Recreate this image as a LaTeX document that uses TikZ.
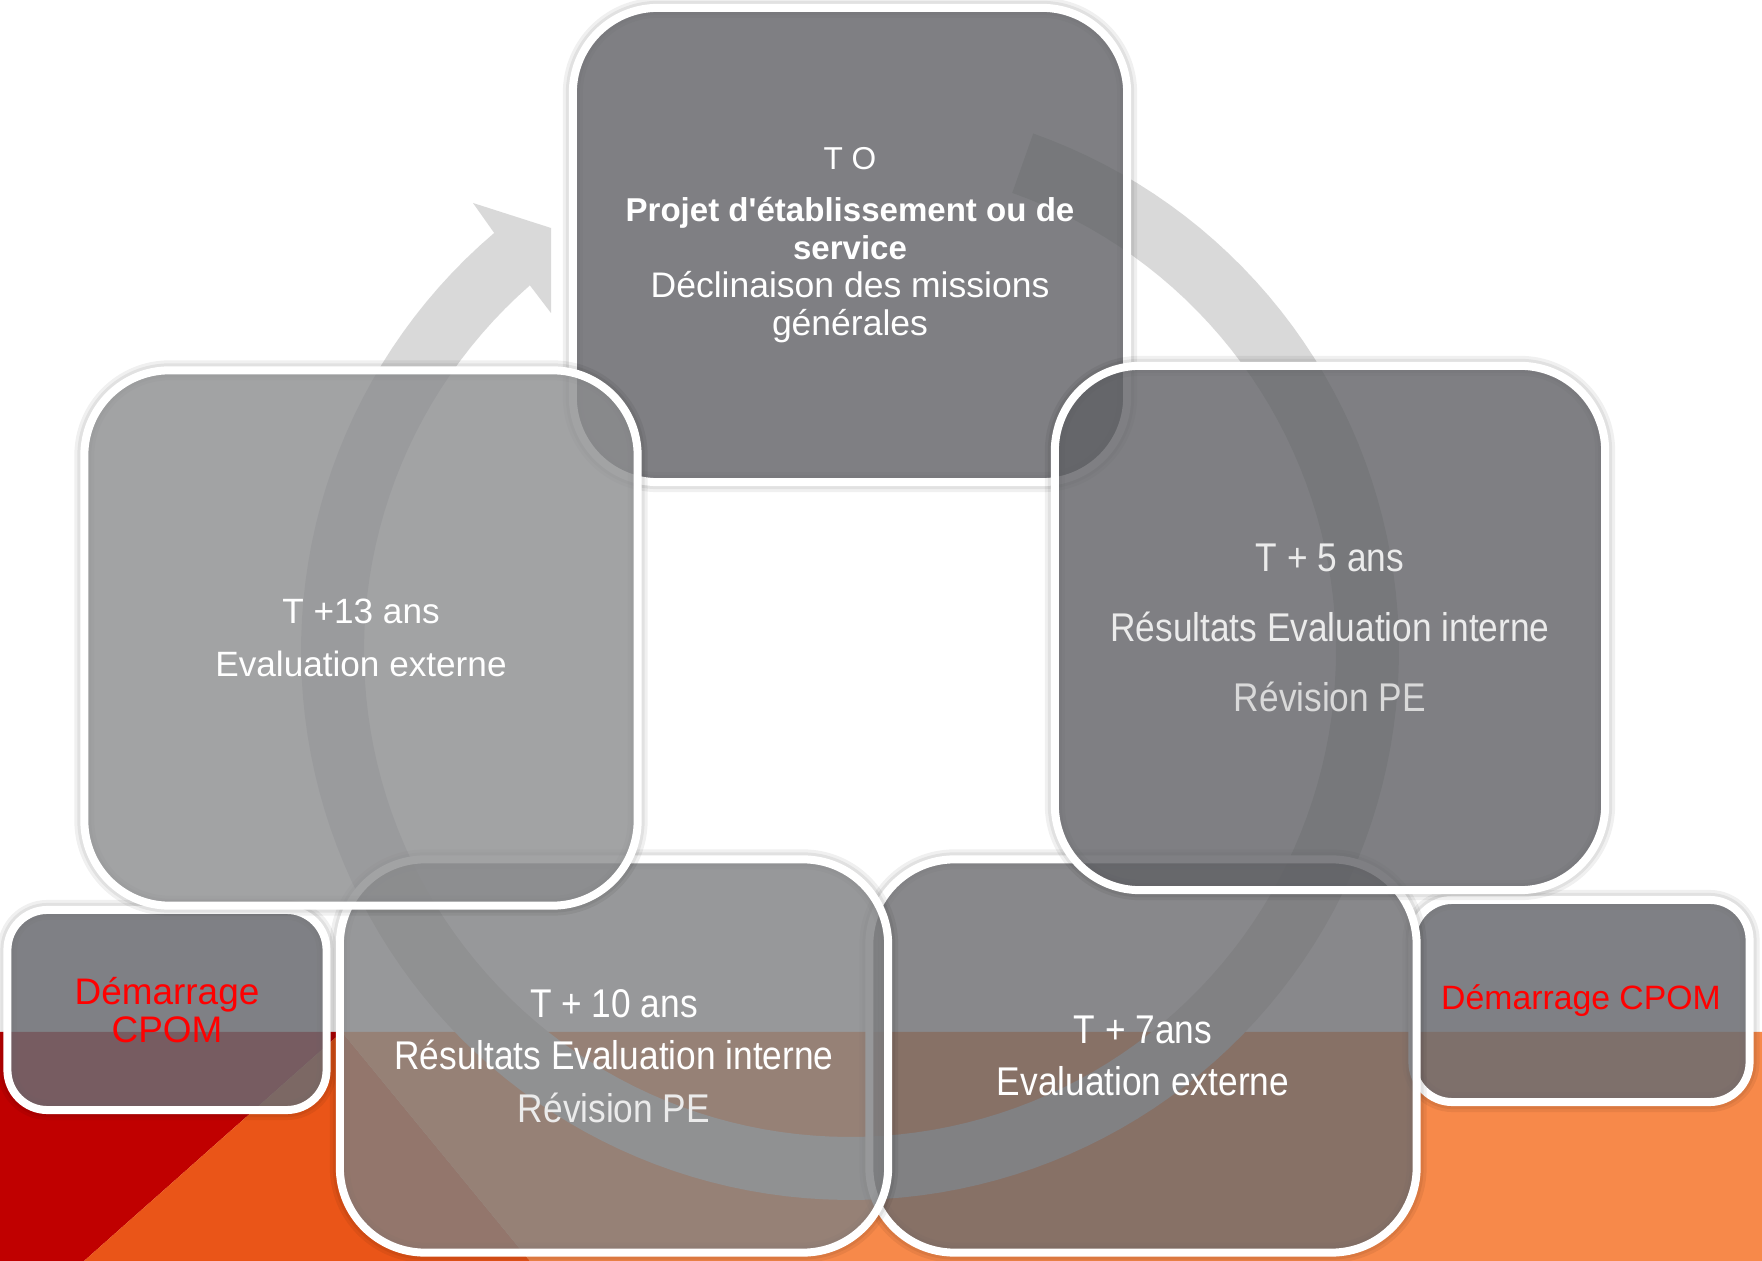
\documentclass[tikz,border=0pt]{standalone}
\usepackage{fontspec}
\setmainfont{Liberation Sans}
\newfontfamily\narrowfont[FakeStretch=0.88]{Liberation Sans}
\usepackage{xcolor}
\definecolor{ringgray}{RGB}{217,217,217}
\definecolor{bandred}{RGB}{192,0,0}
\definecolor{bandorange}{RGB}{234,85,24}
\definecolor{bandlight}{RGB}{247,137,74}
\definecolor{boxdark}{RGB}{95,96,100}
\definecolor{boxmid}{RGB}{107,107,110}
\definecolor{boxlight}{RGB}{126,127,129}
\definecolor{boxpale}{RGB}{139,140,142}
\definecolor{boxcpom}{RGB}{107,108,113}
\definecolor{cpomred}{RGB}{255,0,0}
\definecolor{softwhite}{RGB}{235,235,235}

\newcommand\projfont{\bfseries\fontsize{9.4}{10.8}\selectfont}
\newcommand\missfont{\fontsize{10.1}{10.8}\selectfont}

\tikzset{
    stage/.style={rectangle, rounded corners=0.85cm, draw=white, line width=0.08cm,
        fill opacity=0.8, text opacity=1, text=white, align=center, inner sep=0pt,
        preaction={draw=black, draw opacity=0.06, fill=none, line width=0.2cm,
            preaction={draw=black, draw opacity=0.06, fill=none, line width=0.14cm}}},
    cpom/.style={stage, rounded corners=0.4cm, fill=boxcpom, fill opacity=0.86, text=cpomred},
}

\begin{document}
\begin{tikzpicture}[x=0.01cm, y=-0.01cm]
    % page
    \fill[white] (0,0) rectangle (1762,1261);
    \useasboundingbox (0,0) rectangle (1762,1261);

    % coloured band at the foot
    \fill[bandred] (0,1032) -- (342,1032) -- (84,1261) -- (0,1261) -- cycle;
    \fill[bandorange] (342,1032) -- (84,1261) -- (530,1261) -- cycle;
    \fill[bandlight] (342,1032) -- (1762,1032) -- (1762,1261) -- (530,1261) -- cycle;

    % cycle arrow behind the boxes
    \fill[ringgray, variable=\x]
        plot[domain=-70.5:229.6, samples=150] ({850+549*cos(\x)}, {651+549*sin(\x)})
        -- (473,203) -- (551,228) -- (551,313)
        -- plot[domain=228.8:-70.5, samples=150] ({850+486*cos(\x)}, {651+486*sin(\x)})
        -- cycle;

    % CPOM boxes
    \node[cpom, minimum width=3.19cm, minimum height=2cm,
        font=\fontsize{10.5}{10.8}\selectfont] (cpomleft) at (167,1010) {Démarrage\\CPOM};
    \node[cpom, minimum width=3.37cm, minimum height=2.02cm,
        font=\fontsize{9.6}{11}\selectfont] (cpomright) at (1581,1001) {Démarrage CPOM};

    % stages
    \node[stage, fill=boxdark, minimum width=5.54cm, minimum height=4.74cm,
        font=\fontsize{9}{10.8}\selectfont] (t0) at (850,245)
        {T O\\[4.2pt]
         \projfont Projet d\textquotesingle établissement ou de\\
         \projfont service\\
         \missfont Déclinaison des missions\\
         \missfont générales};
    \node[stage, fill=boxmid, minimum width=5.47cm, minimum height=3.93cm,
        font=\narrowfont\fontsize{11.4}{15}\selectfont] (t7) at (1143,1056)
        {T + 7ans\\Evaluation externe};
    \node[stage, fill=boxlight, minimum width=5.48cm, minimum height=3.93cm,
        font=\narrowfont\fontsize{11.4}{15}\selectfont] (t10) at (614,1056)
        {T + 10 ans\\Résultats Evaluation interne\\\color{softwhite}Révision PE};
    \node[stage, fill=boxdark, minimum width=5.5cm, minimum height=5.24cm,
        font=\narrowfont\fontsize{11.4}{19.9}\selectfont, text=softwhite] (t5) at (1330,628)
        {T + 5 ans\\Résultats Evaluation interne\\\color{ringgray}Révision PE};
    \node[stage, fill=boxpale, minimum width=5.53cm, minimum height=5.35cm,
        font=\fontsize{10}{15}\selectfont] (t13) at (361,638)
        {T +13 ans\\Evaluation externe};
\end{tikzpicture}
\end{document}
